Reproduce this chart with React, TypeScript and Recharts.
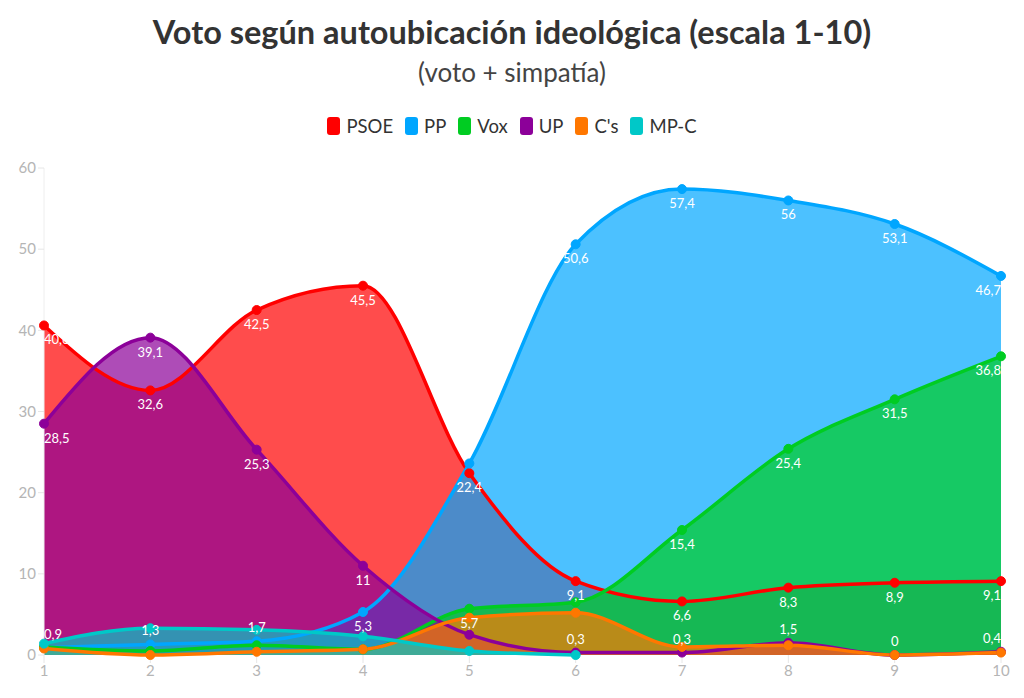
import React from 'react'
import { ComposedChart, Area, Line, XAxis, YAxis, LabelList } from 'recharts'

// escala ideológica 1-10
const escala = [1, 2, 3, 4, 5, 6, 7, 8, 9, 10]

const psoe = [40.6, 32.6, 42.5, 45.5, 22.4, 9.1, 6.6, 8.3, 8.9, 9.1]
const pp = [0.9, 1.3, 1.7, 5.3, 23.6, 50.6, 57.4, 56, 53.1, 46.7]
const vox = [1.0, 0.5, 1.2, 0.7, 5.7, 6.5, 15.4, 25.4, 31.5, 36.8]
const up = [28.5, 39.1, 25.3, 11, 2.5, 0.3, 0.3, 1.5, 0, 0.4]
const cs = [0.8, 0, 0.4, 0.7, 4.6, 5.2, 1.0, 1.2, 0, 0.3]
const mpc = [1.4, 3.3, 3.1, 2.3, 0.5, 0, null, null, null, null]

const yTicks = [0, 10, 20, 30, 40, 50, 60]

// etiquetas ocultas (se solapan en el original)
const hiddenPsoe: number[] = []
const hiddenPp = [4]
const hiddenVox = [0, 1, 2, 3, 5]
const hiddenUp = [4]

const series = [
  { key: 'PSOE', color: '#ff0000', values: psoe, hidden: hiddenPsoe },
  { key: 'PP', color: '#00a6ff', values: pp, hidden: hiddenPp },
  { key: 'Vox', color: '#00cc22', values: vox, hidden: hiddenVox },
  { key: 'UP', color: '#8c0099', values: up, hidden: hiddenUp },
  { key: "C's", color: '#ff7700', values: cs, hidden: null },
  { key: 'MP-C', color: '#00c8c8', values: mpc, hidden: null },
]

const data = escala.map((x, i) => {
  const row: Record<string, number | null> = { x }
  series.forEach((s) => {
    row[s.key] = s.values[i]
  })
  return row
})

const fmt = (v: number) => String(v).replace('.', ',')

const makeLabel = (hidden: number[]) => (props: any) => {
  const { x, y, value, index } = props
  if (value == null || hidden.includes(index)) return null
  const below = value >= 2.5
  let anchor: 'start' | 'middle' | 'end' = 'middle'
  if (index === 0) anchor = 'start'
  if (index === escala.length - 1) anchor = 'end'
  return (
    <text
      x={x}
      y={below ? y + 19 : y - 9}
      textAnchor={anchor}
      fill="#ffffff"
      fontSize={13}
      fontFamily="Lato, sans-serif"
    >
      {fmt(value)}
    </text>
  )
}

export default function App() {
  return (
    <div
      style={{
        position: 'absolute',
        left: 0,
        top: 0,
        width: 1024,
        height: 698,
        background: '#fff',
        fontFamily: 'Lato, sans-serif',
      }}
    >
      <div
        style={{
          position: 'absolute',
          top: 12,
          width: 1024,
          textAlign: 'center',
          fontSize: 32.5,
          fontWeight: 700,
          color: '#333',
        }}
      >
        Voto según autoubicación ideológica (escala 1-10)
      </div>
      <div
        style={{
          position: 'absolute',
          top: 56,
          width: 1024,
          textAlign: 'center',
          fontSize: 26,
          color: '#444',
        }}
      >
        (voto + simpatía)
      </div>
      {/* leyenda */}
      <div
        style={{
          position: 'absolute',
          top: 115,
          width: 1024,
          display: 'flex',
          justifyContent: 'center',
          gap: 12,
          fontSize: 18.5,
          color: '#333',
        }}
      >
        {series.map((s) => (
          <div key={s.key} style={{ display: 'flex', alignItems: 'center' }}>
            <span
              style={{
                display: 'inline-block',
                width: 13,
                height: 18,
                borderRadius: 3,
                background: s.color,
                marginRight: 6,
              }}
            />
            {s.key}
          </div>
        ))}
      </div>
      <div style={{ position: 'absolute', left: 0, top: 0 }}>
        <ComposedChart
          width={1024}
          height={698}
          data={data}
          margin={{ top: 168, right: 23, bottom: 13, left: 10 }}
        >
          <XAxis
            dataKey="x"
            axisLine={false}
            tickLine={{ stroke: '#e6e6e6' }}
            tickSize={8}
            height={30}
            tick={{ fill: '#b5b5b5', fontSize: 15 }}
            interval={0}
          />
          <YAxis
            domain={[0, 60]}
            ticks={yTicks}
            width={34}
            axisLine={{ stroke: '#eeeeee' }}
            tickLine={{ stroke: '#e6e6e6' }}
            tickSize={6}
            tick={{ fill: '#b5b5b5', fontSize: 15 }}
          />
          {/* rellenos primero */}
          {series.map((s) => (
            <Area
              key={'a-' + s.key}
              type="monotone"
              dataKey={s.key}
              stroke="none"
              fill={s.color}
              fillOpacity={0.7}
              dot={false}
              activeDot={false}
              legendType="none"
              isAnimationActive={false}
            />
          ))}
          {/* líneas y puntos encima */}
          {series.map((s) => (
            <Line
              key={'l-' + s.key}
              type="monotone"
              dataKey={s.key}
              stroke={s.color}
              strokeWidth={3.5}
              dot={{ r: 4.5, fill: s.color, stroke: s.color, strokeWidth: 1 }}
              activeDot={false}
              isAnimationActive={false}
            >
              {s.hidden && (
                <LabelList dataKey={s.key} content={makeLabel(s.hidden)} />
              )}
            </Line>
          ))}
        </ComposedChart>
      </div>
    </div>
  )
}
